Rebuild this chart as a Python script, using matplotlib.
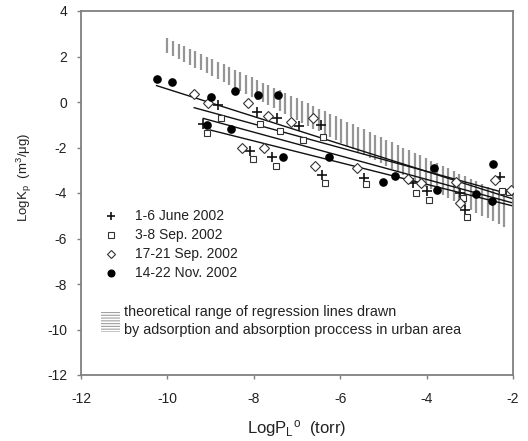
import numpy as np
import matplotlib
matplotlib.use("Agg")
import matplotlib.pyplot as plt
from matplotlib.lines import Line2D
from matplotlib.patches import Patch

plt.rcParams['font.family'] = ['Liberation Sans', 'DejaVu Sans']
plt.rcParams['mathtext.default'] = 'regular'
plt.rcParams['axes.unicode_minus'] = False
plt.rcParams['hatch.linewidth'] = 0.8

# ---- data ----
june_x = [-9.17, -8.84, -7.93, -7.47, -6.95, -6.45, -8.08, -7.57, -6.41, -5.46, -4.32, -4.00, -3.23, -3.11, -2.29]
june_y = [-0.97, -0.14, -0.42, -0.72, -1.06, -0.99, -2.15, -2.43, -3.19, -3.36, -3.55, -3.90, -4.00, -4.75, -3.28]

sep1_x = [-9.09, -8.76, -7.86, -7.39, -6.87, -6.39, -8.01, -7.49, -6.35, -5.40, -4.25, -3.94, -3.15, -3.06, -2.26, -2.10]
sep1_y = [-1.38, -0.72, -0.97, -1.28, -1.67, -1.53, -2.50, -2.80, -3.55, -3.60, -3.99, -4.31, -4.20, -5.07, -3.90, -3.95]

sep2_x = [-9.38, -9.05, -8.14, -7.66, -7.14, -6.64, -8.27, -7.76, -6.58, -5.62, -4.42, -4.13, -3.33, -3.23, -2.42, -2.05]
sep2_y = [0.34, -0.06, -0.03, -0.60, -0.86, -0.72, -2.00, -2.04, -2.80, -2.89, -3.38, -3.58, -3.50, -4.42, -3.43, -3.87]

nov_x = [-10.25, -9.89, -9.00, -9.09, -8.53, -8.44, -7.91, -7.44, -7.32, -6.27, -5.02, -4.72, -3.83, -3.75, -2.86, -2.48, -2.46]
nov_y = [1.01, 0.88, 0.23, -1.00, -1.20, 0.48, 0.29, 0.29, -2.40, -2.40, -3.50, -3.24, -2.90, -3.87, -4.04, -4.35, -2.72]

labels = ['1-6 June 2002', '3-8 Sep. 2002', '17-21 Sep. 2002', '14-22 Nov. 2002']

# regression lines: x range and y at each end
reg_x_start = [-9.17, -9.01, -9.38, -10.25]
reg_x_end = [-2.0, -2.0, -2.0, -2.0]
reg_y_start = [-0.72, -1.23, -0.25, 0.72]
reg_y_end = [-4.44, -4.57, -4.09, -4.26]

# theoretical band (upper and lower boundary at x = -10 and x = -2.1)
band_x = [-10.0, -2.1]
band_upper = [2.80, -4.15]
band_lower = [2.15, -5.60]

fig = plt.figure(figsize=(5.28, 4.41), dpi=100)
ax = fig.add_axes([81/528, 1 - 375/441, 432/528, 364/441])

# hatch band as vertical strokes
hx = np.arange(band_x[0], band_x[1] + 1e-9, 0.13)
hu = np.interp(hx, band_x, band_upper)
hl = np.interp(hx, band_x, band_lower)
ax.vlines(hx, hl, hu, colors='#959595', linewidth=1.6, zorder=1)

# regression lines
for xs, xe, ys, ye in zip(reg_x_start, reg_x_end, reg_y_start, reg_y_end):
    ax.plot([xs, xe], [ys, ye], color='#111111', linewidth=1.0, zorder=2)

ax.plot(june_x, june_y, linestyle='none', marker='+', color='#111111', markersize=7, markeredgewidth=1.2, zorder=3)
ax.plot(sep1_x, sep1_y, linestyle='none', marker='s', markerfacecolor='white', markeredgecolor='#333333', markersize=4.8, markeredgewidth=0.8, zorder=3)
ax.plot(sep2_x, sep2_y, linestyle='none', marker='D', markerfacecolor='white', markeredgecolor='#333333', markersize=4.6, markeredgewidth=0.8, zorder=3)
ax.plot(nov_x, nov_y, linestyle='none', marker='o', color='#000000', markersize=5.2, zorder=3)

ax.set_xlim(-12, -2)
ax.set_ylim(-12, 4)
ax.set_xticks(np.arange(-12, -1, 2))
ax.set_yticks(np.arange(-12, 5, 2))
for s in ax.spines.values():
    s.set_color('#808080')
    s.set_linewidth(1.3)
ax.tick_params(direction='out', length=3, width=1.0, color='#808080', labelsize=10, labelcolor='#222222')
ax.tick_params(axis='x', pad=9.5)
ax.tick_params(axis='y', pad=7)

ax.set_xlabel('LogP$_L$$^o$  (torr)', fontsize=12, color='#222222')
ax.set_ylabel('LogK$_p$  (m$^3$/μg)', fontsize=9.5, color='#222222')
ax.xaxis.label.set_va('center')
ax.yaxis.label.set_va('center')
ax.xaxis.set_label_coords(0.5, -0.146)
ax.yaxis.set_label_coords(-0.132, 0.544)

handles = [
    Line2D([], [], linestyle='none', marker='+', color='#111111', markersize=6, markeredgewidth=1.2),
    Line2D([], [], linestyle='none', marker='s', markerfacecolor='white', markeredgecolor='#333333', markersize=4.3, markeredgewidth=0.8),
    Line2D([], [], linestyle='none', marker='D', markerfacecolor='white', markeredgecolor='#333333', markersize=4.3, markeredgewidth=0.8),
    Line2D([], [], linestyle='none', marker='o', color='#000000', markersize=4.8),
]
leg = ax.legend(handles, labels, loc='upper left', bbox_to_anchor=(0.035, 0.474), frameon=False,
                fontsize=10, handlelength=1.2, handletextpad=1.1, labelspacing=0.36, borderpad=0)
for t in leg.get_texts():
    t.set_color('#222222')
ax.add_artist(leg)

band_handle = Patch(facecolor='none', edgecolor='#a0a0a0', linewidth=0, hatch='------')
leg2 = ax.legend([band_handle],
                 ['theoretical range of regression lines drawn\nby adsorption and absorption proccess in urban area'],
                 loc='upper left', bbox_to_anchor=(0.03, 0.212), frameon=False, fontsize=10.4,
                 handlelength=1.3, handleheight=1.8, handletextpad=0.3, borderpad=0)
for t in leg2.get_texts():
    t.set_color('#222222')
    t.set_linespacing(1.38)

fig.savefig('out.png', dpi=100)
